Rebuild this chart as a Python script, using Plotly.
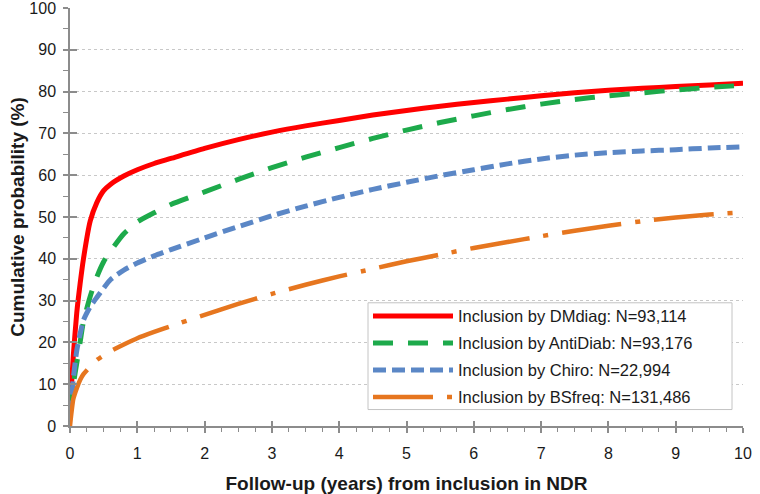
import plotly.graph_objects as go

years = [0, 0.02, 0.05, 0.1, 0.15, 0.2, 0.3, 0.4, 0.5, 0.6, 0.8, 1, 1.25, 1.5, 2, 2.5,
         3, 3.5, 4, 4.5, 5, 5.5, 6, 6.5, 7, 7.5, 8, 8.5, 9, 9.5, 10]

dmdiag = [3, 9, 17, 27, 34, 40, 49, 53.5, 56.3, 57.8, 59.8, 61.3, 62.8, 64, 66.4, 68.5,
          70.3, 71.8, 73.1, 74.4, 75.5, 76.5, 77.4, 78.2, 79, 79.7, 80.3, 80.8, 81.2, 81.6, 82]
antidiab = [3, 6, 10, 15, 20, 25, 31, 35.7, 39.3, 41.8, 46, 48.8, 51, 53, 56, 59,
            61.8, 64.3, 66.6, 68.8, 70.8, 72.6, 74.2, 75.7, 77, 78.1, 79, 79.7, 80.4, 81, 81.5]
chiro = [3, 6, 11.5, 18, 22, 25.3, 28.5, 30.8, 33, 35, 37.3, 39, 40.7, 42.2, 45, 47.7,
         50.3, 52.6, 54.7, 56.6, 58.3, 59.9, 61.3, 62.7, 63.9, 64.8, 65.4, 65.8, 66.1, 66.5, 66.8]
bsfreq = [0, 3, 6.5, 9, 11, 12.4, 14.2, 15.8, 16.9, 17.9, 19.5, 21, 22.5, 23.9, 26.6, 29.2,
          31.6, 33.8, 35.8, 37.6, 39.4, 41, 42.6, 44, 45.4, 46.7, 47.9, 49, 49.9, 50.6, 51.1]

names = ["Inclusion by DMdiag: N=93,114", "Inclusion by AntiDiab: N=93,176",
         "Inclusion by Chiro: N=22,994", "Inclusion by BSfreq: N=131,486"]
series = [dmdiag, antidiab, chiro, bsfreq]
colors = ["#FF0000", "#1DAA4B", "#5B87C6", "#E6761F"]
dashes = ["solid", "20px,15px", "13px,6px", "60px,14px,5px,14px"]
widths = [5, 5, 5, 4.5]

fig = go.Figure()
for nm, ys, c, d, w in zip(names, series, colors, dashes, widths):
    fig.add_trace(go.Scatter(x=years, y=ys, mode="lines", name=nm, legendgroup=nm,
                             line=dict(color=c, dash=d, width=w, shape="spline", smoothing=0.6),
                             hoverinfo="skip"))
# dummy trace so the overlay axes (inner half of the crossing ticks) are drawn
fig.add_trace(go.Scatter(x=[None], y=[None], xaxis="x2", yaxis="y2", showlegend=False,
                         hoverinfo="skip"))

axcol = "#8c8c8c"
W, H = 760, 494
L, R, T, B = 70, 17, 7.5, 67.5
pw, ph = W - L - R, H - T - B


def px(xw):
    return (xw - L) / pw


def py(yw):
    return (H - B - yw) / ph


fig.update_layout(
    width=W, height=H,
    margin=dict(l=L, r=R, t=T, b=B, autoexpand=False),
    paper_bgcolor="white", plot_bgcolor="white",
    font=dict(family="Liberation Sans, Arial, sans-serif", color="#1a1a1a", size=16),
    xaxis=dict(range=[0, 10], dtick=1, showgrid=False, zeroline=False, automargin=False,
               showline=True, linecolor=axcol, linewidth=1.5,
               ticks="outside", ticklen=5, tickcolor=axcol, tickwidth=1.5,
               minor=dict(dtick=0.25, ticks="outside", ticklen=4, tickcolor=axcol, tickwidth=1),
               tickfont=dict(size=16), ticklabeloverflow="allow", ticklabelstandoff=7,
               title=dict(text="<b>Follow-up (years) from inclusion in NDR</b>",
                          font=dict(size=19), standoff=17)),
    yaxis=dict(range=[0, 100], dtick=10, showgrid=True, gridcolor="#c8c8c8", griddash="dot",
               gridwidth=1, zeroline=False, automargin=False,
               showline=True, linecolor=axcol, linewidth=1.5,
               ticks="outside", ticklen=5, tickcolor=axcol, tickwidth=1.5,
               minor=dict(dtick=5, ticks="outside", ticklen=5, tickcolor=axcol, tickwidth=1,
                          showgrid=False),
               tickfont=dict(size=16), ticklabeloverflow="allow", ticklabelstandoff=4,
               title=dict(text="<b>Cumulative probability (%)</b>",
                          font=dict(size=19), standoff=0)),
    xaxis2=dict(range=[0, 10], dtick=1, overlaying="x", anchor="y2", side="bottom",
                showgrid=False, zeroline=False, showline=False, showticklabels=False,
                ticks="inside", ticklen=5, tickcolor=axcol, tickwidth=1.5, automargin=False),
    yaxis2=dict(range=[0, 100], dtick=10, overlaying="y", anchor="x2", side="left",
                showgrid=False, zeroline=False, showline=False, showticklabels=False,
                ticks="inside", ticklen=7, tickcolor=axcol, tickwidth=1.5, automargin=False),
    legend=dict(x=px(368), y=py(299), xanchor="left", yanchor="top",
                bgcolor="rgba(0,0,0,0)", borderwidth=0,
                font=dict(size=16.5, color="#1a1a1a"), itemwidth=80,
                tracegroupgap=2.5),
    shapes=[dict(type="rect", xref="paper", yref="paper", layer="above",
                 x0=px(368), x1=px(732), y0=py(410), y1=py(303),
                 fillcolor="white", line=dict(color="#c4c4c4", width=1))],
    showlegend=True,
)

fig.write_html("out.html", config={"displayModeBar": False},
               post_script="document.body.style.margin='0';")
